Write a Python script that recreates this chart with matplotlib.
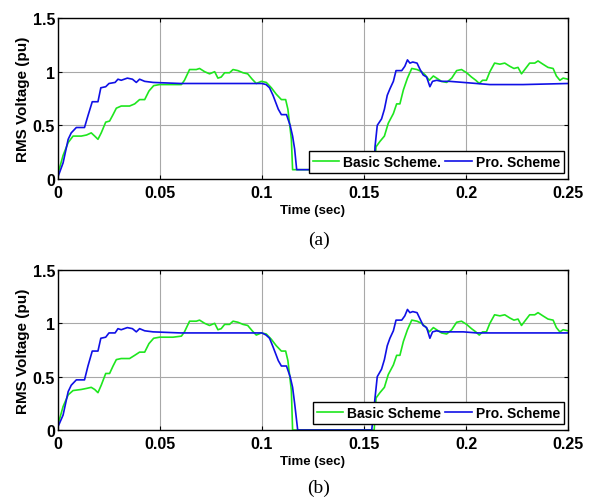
import matplotlib
matplotlib.use("Agg")
import matplotlib.pyplot as plt

# (a) basic scheme / proposed scheme
blue_a_t = [0, 0.0025, 0.005, 0.0065, 0.009, 0.013, 0.0147, 0.0168, 0.0196, 0.021,
            0.0234, 0.025, 0.028, 0.0294, 0.031, 0.034, 0.0365, 0.0384, 0.040, 0.0425,
            0.0466, 0.06, 0.08, 0.1, 0.102, 0.1037, 0.1054, 0.108, 0.1095, 0.112,
            0.1138, 0.115, 0.116, 0.117, 0.155, 0.1554, 0.1565, 0.1586, 0.160, 0.1614,
            0.1627, 0.1644, 0.1657, 0.1685, 0.170, 0.1713, 0.1725, 0.1739, 0.176, 0.1775,
            0.179, 0.1807, 0.1823, 0.1836, 0.1856, 0.188, 0.192, 0.1987, 0.2052, 0.2117,
            0.228, 0.25]
blue_a_v = [0.02, 0.15, 0.37, 0.43, 0.48, 0.48, 0.59, 0.72, 0.72, 0.85,
            0.86, 0.89, 0.90, 0.93, 0.92, 0.94, 0.93, 0.90, 0.93, 0.91,
            0.90, 0.89, 0.89, 0.89, 0.88, 0.85, 0.78, 0.65, 0.60, 0.60,
            0.50, 0.40, 0.28, 0.087, 0.087, 0.30, 0.50, 0.56, 0.65, 0.78,
            0.84, 0.91, 1.01, 1.01, 1.05, 1.11, 1.08, 1.09, 1.08, 1.02,
            0.97, 0.95, 0.86, 0.91, 0.92, 0.91, 0.91, 0.90, 0.89, 0.88,
            0.88, 0.89]

green_t = [0, 0.0025, 0.005, 0.0074, 0.0114, 0.014, 0.0163, 0.018, 0.0196, 0.0212,
           0.0234, 0.0253, 0.027, 0.0286, 0.031, 0.0351, 0.0376, 0.040, 0.0425, 0.0446,
           0.0469, 0.0498, 0.0564, 0.0605, 0.062, 0.0645, 0.0678, 0.0694, 0.0719, 0.0743,
           0.0768, 0.0784, 0.08, 0.0817, 0.0841, 0.0858, 0.0882, 0.0907, 0.093, 0.0952,
           0.0972, 0.0997, 0.1021, 0.1046, 0.107, 0.1095, 0.1116, 0.1127, 0.1135, 0.1144,
           0.115, 0.155, 0.1559, 0.1578, 0.160, 0.1619, 0.1644, 0.166, 0.1676, 0.1693,
           0.1713, 0.1734, 0.176, 0.1782, 0.18, 0.182, 0.184, 0.1856, 0.188, 0.1905,
           0.193, 0.1954, 0.1978, 0.2003, 0.2027, 0.2048, 0.2065, 0.2081, 0.21, 0.2117,
           0.214, 0.2166, 0.219, 0.2215, 0.2235, 0.2255, 0.2272, 0.2296, 0.2312, 0.2337,
           0.2353, 0.2377, 0.2402, 0.2427, 0.2443, 0.246, 0.2476, 0.25]
green_a_v = [0.05, 0.22, 0.34, 0.40, 0.40, 0.41, 0.43, 0.40, 0.37, 0.43,
             0.53, 0.54, 0.60, 0.66, 0.68, 0.68, 0.70, 0.74, 0.74, 0.82,
             0.87, 0.88, 0.88, 0.88, 0.92, 1.02, 1.02, 1.03, 1.00, 0.98,
             1.00, 0.94, 0.95, 0.99, 0.99, 1.02, 1.01, 0.99, 0.98, 0.93,
             0.89, 0.91, 0.90, 0.85, 0.79, 0.74, 0.74, 0.65, 0.52, 0.37,
             0.087, 0.087, 0.30, 0.35, 0.40, 0.52, 0.61, 0.70, 0.70, 0.83,
             0.94, 1.03, 1.02, 1.00, 0.97, 0.92, 0.96, 0.94, 0.91, 0.90,
             0.94, 1.01, 1.02, 0.99, 0.95, 0.92, 0.89, 0.92, 0.92, 1.00,
             1.08, 1.07, 1.08, 1.05, 1.03, 1.04, 0.98, 1.04, 1.08, 1.08,
             1.10, 1.07, 1.04, 1.03, 0.96, 0.92, 0.94, 0.93]

# (b)
blue_b_t = [0, 0.0025, 0.005, 0.0065, 0.009, 0.013, 0.0147, 0.0168, 0.0196, 0.021,
            0.0234, 0.025, 0.028, 0.0294, 0.031, 0.034, 0.0365, 0.0384, 0.040, 0.0425,
            0.0466, 0.06, 0.08, 0.1, 0.102, 0.1037, 0.1054, 0.108, 0.1095, 0.112,
            0.1138, 0.115, 0.116, 0.1175, 0.1538, 0.1554, 0.1565, 0.1586, 0.160, 0.1614,
            0.1627, 0.1644, 0.1657, 0.1685, 0.170, 0.1713, 0.1725, 0.1739, 0.176, 0.1775,
            0.179, 0.1807, 0.1823, 0.1836, 0.1856, 0.188, 0.192, 0.1987, 0.2052, 0.2117,
            0.228, 0.25]
blue_b_v = [0.03, 0.14, 0.36, 0.42, 0.47, 0.47, 0.60, 0.74, 0.74, 0.86,
            0.87, 0.91, 0.91, 0.95, 0.94, 0.96, 0.95, 0.92, 0.95, 0.93,
            0.92, 0.91, 0.91, 0.91, 0.89, 0.86, 0.78, 0.65, 0.60, 0.60,
            0.50, 0.40, 0.25, 0.0, 0.0, 0.30, 0.50, 0.57, 0.66, 0.79,
            0.86, 0.93, 1.03, 1.03, 1.07, 1.13, 1.10, 1.11, 1.10, 1.04,
            0.98, 0.96, 0.86, 0.92, 0.93, 0.92, 0.92, 0.92, 0.91, 0.91,
            0.91, 0.91]
green_b_v = [0.05, 0.22, 0.33, 0.37, 0.38, 0.39, 0.40, 0.38, 0.35, 0.42,
             0.53, 0.53, 0.60, 0.66, 0.67, 0.67, 0.70, 0.73, 0.73, 0.81,
             0.86, 0.87, 0.87, 0.88, 0.92, 1.02, 1.02, 1.03, 1.00, 0.98,
             1.00, 0.94, 0.95, 0.99, 0.99, 1.02, 1.01, 0.99, 0.98, 0.93,
             0.89, 0.91, 0.90, 0.85, 0.79, 0.74, 0.74, 0.65, 0.52, 0.37,
             0.0, 0.0, 0.30, 0.35, 0.40, 0.52, 0.61, 0.70, 0.70, 0.83,
             0.94, 1.03, 1.02, 1.00, 0.97, 0.92, 0.96, 0.94, 0.91, 0.90,
             0.94, 1.01, 1.02, 0.99, 0.95, 0.92, 0.89, 0.92, 0.92, 1.00,
             1.08, 1.07, 1.08, 1.05, 1.03, 1.04, 0.98, 1.04, 1.08, 1.08,
             1.10, 1.07, 1.04, 1.03, 0.96, 0.92, 0.94, 0.93]

xticks = [0, 0.05, 0.1, 0.15, 0.2, 0.25]
xticklabels = ["0", "0.05", "0.1", "0.15", "0.2", "0.25"]
yticks = [0, 0.5, 1, 1.5]
yticklabels = ["0", "0.5", "1", "1.5"]

panels = [
    (blue_a_t, blue_a_v, green_a_v, ["Basic Scheme.", "Pro. Scheme"], "(a)",
     [0.0981, 0.6414, 0.863, 0.3207], 0.522),
    (blue_b_t, blue_b_v, green_b_v, ["Basic Scheme", "Pro. Scheme"], "(b)",
     [0.0981, 0.1414, 0.863, 0.3188], 0.028),
]

GREEN = "#1ee61e"
BLUE = "#1010e6"
SANS = "Liberation Sans"

fig = plt.figure(figsize=(5.91, 5.02), dpi=100)
for bt, bv, gv, names, tag, rect, tag_y in panels:
    ax = fig.add_axes(rect)
    ax.plot(green_t, gv, color=GREEN, lw=1.2, label=names[0])
    ax.plot(bt, bv, color=BLUE, lw=1.2, label=names[1])
    ax.set_xlim(0, 0.25)
    ax.set_ylim(0, 1.5)
    ax.set_xticks(xticks)
    ax.set_xticklabels(xticklabels, fontsize=11.5, fontweight="bold", family=SANS)
    ax.set_yticks(yticks)
    ax.set_yticklabels(yticklabels, fontsize=11.5, fontweight="bold", family=SANS)
    ax.tick_params(direction="in", top=True, right=True, length=3, pad=2)
    ax.tick_params(axis="x", pad=4)
    ax.grid(True, color="#a8a8a8", lw=0.8)
    for s in ax.spines.values():
        s.set_linewidth(1.0)
    ax.set_xlabel("Time (sec)", fontsize=9.5, fontweight="bold", family=SANS, labelpad=3)
    ax.set_ylabel("RMS Voltage (pu)", fontsize=11, fontweight="bold", family=SANS, labelpad=2)
    leg = ax.legend(ncol=2, loc="lower right", bbox_to_anchor=(0.993, 0.035),
                    prop={"family": SANS, "weight": "bold", "size": 10},
                    fancybox=False, edgecolor="black", framealpha=1,
                    borderpad=0.3, handlelength=1.9, handletextpad=0.3,
                    columnspacing=0.3, borderaxespad=0)
    leg.get_frame().set_linewidth(1.0)
    fig.text(rect[0] + rect[2] / 2 + 0.01, tag_y, tag, ha="center", va="center",
             fontsize=14, family="Liberation Serif")

fig.savefig("out.png", dpi=100)
